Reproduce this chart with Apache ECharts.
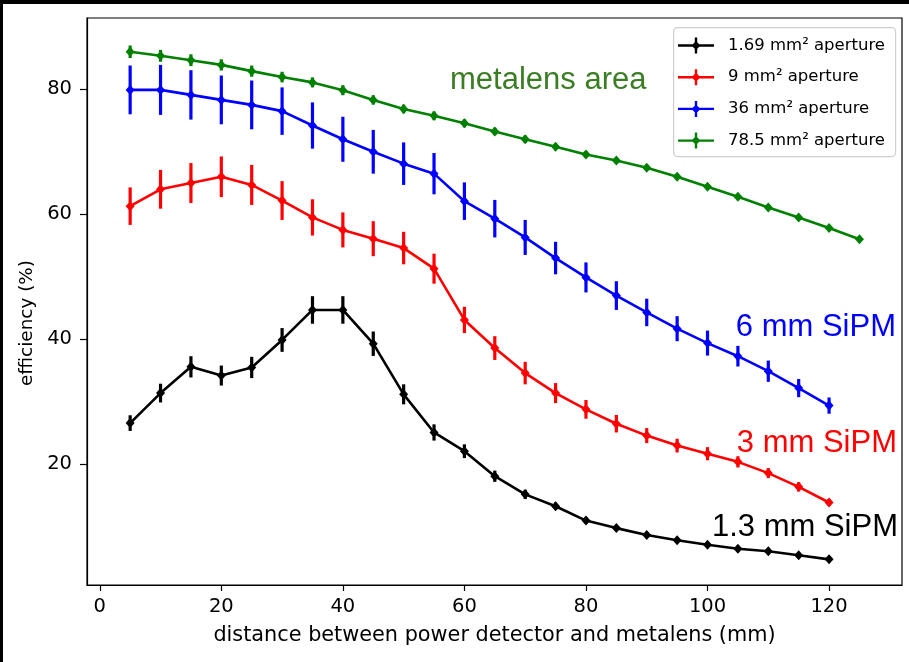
<!DOCTYPE html>
<html>
<head>
<meta charset="utf-8">
<script src="https://cdn.jsdelivr.net/npm/echarts@6/dist/echarts.min.js"></script>
<style>
html,body{margin:0;padding:0;background:#fff;}
#chart{width:909px;height:662px;}
</style>
</head>
<body>
<div id="chart"></div>
<script>
// ---- data ----
const xTickValues = [0, 20, 40, 60, 80, 100, 120];
const yTickValues = [20, 40, 60, 80];

const xShort = [5,10,15,20,25,30,35,40,45,50,55,60,65,70,75,80,85,90,95,100,105,110,115,120];
const xLong  = [5,10,15,20,25,30,35,40,45,50,55,60,65,70,75,80,85,90,95,100,105,110,115,120,125];

const names = ['1.69 mm² aperture', '9 mm² aperture', '36 mm² aperture', '78.5 mm² aperture'];
const colors = ['#000000', '#ff0000', '#0000ff', '#008000'];

const blackY   = [26.6, 31.4, 35.6, 34.2, 35.5, 39.9, 44.7, 44.7, 39.3, 31.2, 25.1, 22.1, 18.1, 15.2, 13.3, 11.0, 9.8, 8.7, 7.85, 7.15, 6.5, 6.1, 5.45, 4.8];
const blackErr = [1.25, 1.5, 1.7, 1.6, 1.7, 1.9, 2.2, 2.2, 1.95, 1.6, 1.3, 1.1, 0.9, 0.75, 0.6, 0.5, 0.45, 0.4, 0.4, 0.35, 0.35, 0.3, 0.3, 0.3];

const redY   = [61.3, 64.0, 65.0, 66.0, 64.7, 62.2, 59.5, 57.5, 56.1, 54.6, 51.3, 43.1, 38.6, 34.6, 31.4, 28.8, 26.5, 24.6, 23.0, 21.7, 20.4, 18.6, 16.4, 13.9];
const redErr = [3.0, 3.1, 3.2, 3.25, 3.2, 3.1, 2.9, 2.8, 2.8, 2.6, 2.4, 2.1, 1.9, 1.8, 1.6, 1.5, 1.4, 1.2, 1.1, 1.05, 0.9, 0.8, 0.75, 0.5];

const blueY   = [79.9, 79.9, 79.1, 78.3, 77.5, 76.5, 74.2, 72.0, 70.0, 68.1, 66.5, 62.1, 59.3, 56.3, 53.0, 49.9, 47.0, 44.3, 41.7, 39.4, 37.3, 34.9, 32.2, 29.4];
const blueErr = [3.9, 4.0, 3.95, 3.9, 3.9, 3.8, 3.7, 3.6, 3.5, 3.4, 3.3, 3.0, 3.0, 2.8, 2.6, 2.4, 2.3, 2.2, 2.0, 2.0, 1.65, 1.7, 1.45, 1.3];

const greenY   = [86.0, 85.35, 84.65, 83.9, 82.9, 81.95, 81.1, 79.85, 78.3, 76.85, 75.75, 74.55, 73.25, 72.0, 70.8, 69.55, 68.6, 67.45, 66.0, 64.4, 62.8, 61.1, 59.5, 57.8, 56.0];
const greenErr = [1.0, 0.95, 0.95, 0.9, 0.9, 0.85, 0.8, 0.8, 0.75, 0.7, 0.7, 0.65, 0.6, 0.6, 0.55, 0.55, 0.5, 0.5, 0.5, 0.45, 0.45, 0.45, 0.4, 0.4, 0.4];

const xAxisTitle = 'distance between power detector and metalens (mm)';
const yAxisTitle = 'efficiency (%)';

const annotations = [
  {text: 'metalens area', color: '#3a7d22'},
  {text: '6 mm SiPM', color: '#0000ff'},
  {text: '3 mm SiPM', color: '#ff0000'},
  {text: '1.3 mm SiPM', color: '#000000'}
];

// ---- build ----
const groups = [
  {x: xShort, y: blackY, e: blackErr},
  {x: xShort, y: redY, e: redErr},
  {x: xShort, y: blueY, e: blueErr},
  {x: xLong, y: greenY, e: greenErr}
];

const FONT = 'DejaVu Sans';
const series = [];
groups.forEach((g, i) => {
  const color = colors[i];
  series.push({
    type: 'custom',
    name: names[i] + ' err',
    data: g.x.map((x, k) => [x, g.y[k] - g.e[k], g.y[k] + g.e[k]]),
    encode: {x: 0, y: [1, 2]},
    clip: true,
    z: 2 + i,
    silent: true,
    renderItem: function (params, api) {
      const p1 = api.coord([api.value(0), api.value(1)]);
      const p2 = api.coord([api.value(0), api.value(2)]);
      return {type: 'line', shape: {x1: p1[0], y1: p1[1], x2: p2[0], y2: p2[1]},
              style: {stroke: color, lineWidth: 3.2}};
    }
  });
  series.push({
    type: 'line',
    name: names[i],
    data: g.x.map((x, k) => [x, g.y[k]]),
    symbol: 'diamond',
    symbolSize: [9, 10],
    showSymbol: true,
    z: 2 + i,
    lineStyle: {color: color, width: 2.6},
    itemStyle: {color: color},
    silent: true
  });
});

const chart = echarts.init(document.getElementById('chart'), null, {renderer: 'canvas'});
const option = {
  animation: false,
  backgroundColor: '#ffffff',
  grid: {left: 87, right: 7, top: 18, bottom: 77, show: true, borderColor: '#000', borderWidth: 1.2, outerBoundsMode: 'none', containLabel: false},
  xAxis: {
    type: 'value', min: -2.1, max: 132,
    name: xAxisTitle,
    nameLocation: 'middle', nameGap: 40,
    nameTextStyle: {fontFamily: FONT, fontSize: 20.8, color: '#000'},
    axisLine: {show: true, onZero: false, lineStyle: {color: '#000', width: 1.2}},
    axisTick: {show: true, length: 6, customValues: xTickValues, lineStyle: {color: '#000', width: 1.2}},
    axisLabel: {customValues: xTickValues, fontFamily: FONT, fontSize: 19.5, color: '#000', margin: 12},
    splitLine: {show: false}
  },
  yAxis: {
    type: 'value', min: 0.7, max: 91.4,
    axisLine: {show: true, onZero: false, lineStyle: {color: '#000', width: 1.2}},
    axisTick: {show: true, length: 7, customValues: yTickValues, lineStyle: {color: '#000', width: 1.2}},
    axisLabel: {customValues: yTickValues, fontFamily: FONT, fontSize: 19.5, color: '#000', margin: 15},
    splitLine: {show: false}
  },
  legend: {
    data: names,
    orient: 'vertical',
    left: 678, top: 37,
    padding: 0,
    itemWidth: 36, itemHeight: 16, itemGap: 14.7,
    icon: 'path://M0,6.8H36V9.2H0Z M16.8,0H19.2V16H16.8Z M18,3.5L22.5,8L18,12.5L13.5,8Z',
    textStyle: {fontFamily: FONT, fontSize: 16.5, color: '#000', padding: [0, 0, 0, 9]},
    z: 6,
    selectedMode: false
  },
  graphic: [
    {type: 'rect', left: 673, top: 27, z: 5, shape: {width: 222, height: 129, r: 4},
     style: {fill: 'rgba(255,255,255,0.85)', stroke: '#cfcfcf', lineWidth: 1.2}},
    {type: 'rect', left: 0, top: 0, z: 10, shape: {width: 909, height: 4}, style: {fill: '#000'}},
    {type: 'rect', left: 0, top: 0, z: 10, shape: {width: 3, height: 662}, style: {fill: '#000'}},
    {type: 'text', x: 27, y: 323, rotation: Math.PI / 2, z: 7,
     style: {text: yAxisTitle, fill: '#000', font: '18.4px "DejaVu Sans"', textAlign: 'center', textVerticalAlign: 'middle'}},
    {type: 'text', x: 450, y: 80.5, z: 7, style: {text: annotations[0].text, fill: annotations[0].color, font: '31px "Liberation Sans"', textAlign: 'left', textVerticalAlign: 'middle'}},
    {type: 'text', x: 896, y: 327.5, z: 7, style: {text: annotations[1].text, fill: annotations[1].color, font: '31px "Liberation Sans"', textAlign: 'right', textVerticalAlign: 'middle'}},
    {type: 'text', x: 897, y: 443, z: 7, style: {text: annotations[2].text, fill: annotations[2].color, font: '31px "Liberation Sans"', textAlign: 'right', textVerticalAlign: 'middle'}},
    {type: 'text', x: 898, y: 527.5, z: 7, style: {text: annotations[3].text, fill: annotations[3].color, font: '31px "Liberation Sans"', textAlign: 'right', textVerticalAlign: 'middle'}}
  ],
  series: series
};
chart.setOption(option);
</script>
</body>
</html>
